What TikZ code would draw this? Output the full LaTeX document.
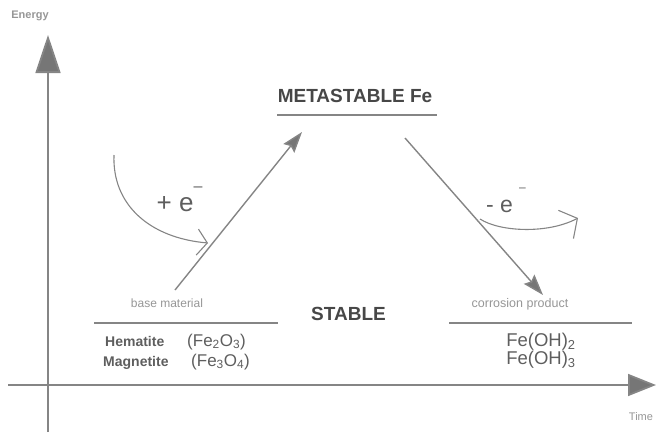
\documentclass[tikz,border=0pt]{standalone}
\usepackage{fontspec}
\setmainfont{Liberation Sans}
\usetikzlibrary{arrows.meta}
\definecolor{ln}{HTML}{858585}
\definecolor{hd}{HTML}{767676}
\definecolor{tx}{HTML}{5E5E5E}
\definecolor{dk}{HTML}{474747}
\definecolor{lt}{HTML}{969696}
\newcommand{\fs}[1]{\fontsize{#1}{#1}\selectfont}
\begin{document}
\begin{tikzpicture}[x=1pt,y=-1pt,
  lbl/.style={inner sep=0pt, text=tx},
  lvl/.style={draw=ln, line width=1.4pt},
  axis/.style={draw=ln, line width=1.8pt},
  react/.style={draw=ln, line width=1.4pt, -{Stealth[length=21pt,width=14pt,inset=3pt,fill=hd]}},
  echange/.style={draw=ln, line width=1.1pt, -{Straight Barb[length=10pt,width=26pt,line width=1.1pt]}}]
\useasboundingbox (0,0) rectangle (656,432);
% axes
\coordinate (yb) at (48,432);
\coordinate (yt) at (48,35);
\coordinate (xl) at (8,385);
\coordinate (xr) at (656,385);
\draw[axis, -{Triangle[length=38pt,width=25pt,fill=hd]}] (yb) -- (yt);
\draw[axis, -{Triangle[length=28pt,width=22pt,fill=hd]}] (xl) -- (xr);
\node[lbl, anchor=base, text=lt, font=\fs{11}\bfseries] (energy) at (30,18) {Energy};
\node[lbl, anchor=base, text=lt, font=\fs{11}] (time) at (641,420) {Time};
% levels
\coordinate (m1) at (277,115);
\coordinate (m2) at (437,115);
\coordinate (b1) at (94,323);
\coordinate (b2) at (278,323);
\coordinate (c1) at (449,323);
\coordinate (c2) at (632,323);
\draw[lvl] (m1) -- (m2);
\draw[lvl] (b1) -- (b2);
\draw[lvl] (c1) -- (c2);
\node[lbl, anchor=base, text=dk, font=\fs{19}\bfseries] (meta) at (355,102) {METASTABLE Fe};
\node[lbl, anchor=base, text=dk, font=\fs{19}\bfseries] (stable) at (348.5,320) {STABLE};
\node[lbl, anchor=base, text=lt, font=\fs{12}] (base) at (167,307) {base material};
\node[lbl, anchor=base, text=lt, font=\fs{12.5}] (corr) at (520,307) {corrosion product};
\node[lbl, anchor=base west, font=\fs{14}\bfseries] (hem) at (105,346) {Hematite};
\node[lbl, anchor=base west, font=\fs{14}\bfseries] (mag) at (103,366) {Magnetite};
\node[lbl, anchor=base west, font=\fs{17}] (hemf) at (187,346) {(Fe\textsubscript{2}O\textsubscript{3})};
\node[lbl, anchor=base west, font=\fs{17}] (magf) at (191,366) {(Fe\textsubscript{3}O\textsubscript{4})};
\node[lbl, anchor=base, font=\fs{18.5}] (oh2) at (541,346) {Fe(OH)\textsubscript{2}};
\node[lbl, anchor=base, font=\fs{18.5}] (oh3) at (541,364) {Fe(OH)\textsubscript{3}};
% reaction arrows
\coordinate (r1s) at (175,290);
\coordinate (r1e) at (302,132);
\coordinate (r2s) at (405,138);
\coordinate (r2e) at (543,295);
\draw[react] (r1s) -- (r1e);
\draw[react] (r2s) -- (r2e);
% electron arrows
\coordinate (p1) at (114,155);
\coordinate (p2) at (208,243);
\draw[echange] (p1) .. controls (112,205) and (150,238) .. (p2);
\node[lbl, anchor=base west, font=\fs{26}] (plus) at (156.5,211.5) {+ e\raisebox{20pt}{\fs{16}–}};
\coordinate (q1) at (480,219);
\coordinate (q2) at (578,218);
\draw[echange, -{Straight Barb[length=13pt,width=32pt,line width=1.1pt]}] (q1) .. controls (500,232) and (548,234) .. (q2);
\node[lbl, anchor=base west, font=\fs{23}] (minus) at (486,212) {- e\hspace{6pt}\raisebox{21pt}{\fs{12}–}};
\end{tikzpicture}
\end{document}
